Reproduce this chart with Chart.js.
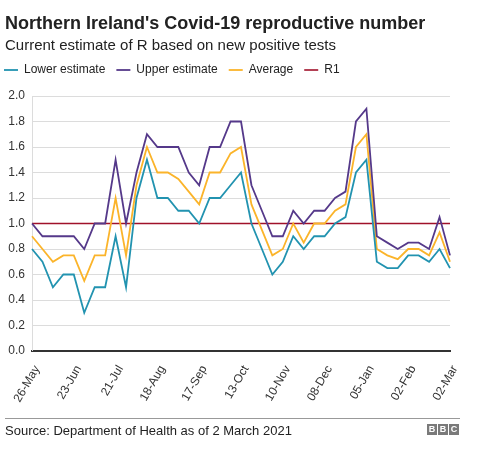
<!DOCTYPE html>
<html>
<head>
<meta charset="utf-8">
<script src="https://cdn.jsdelivr.net/npm/chart.js@4"></script>
<style>
  html, body { margin: 0; padding: 0; background: #fff; }
  body { width: 480px; height: 451px; position: relative; overflow: hidden; font-family: "Liberation Sans", Arial, sans-serif; }
  #title { position: absolute; left: 5px; top: 13px; font-size: 18px; font-weight: bold; color: #222; white-space: nowrap; }
  #subtitle { position: absolute; left: 5px; top: 36px; font-size: 15px; color: #222; white-space: nowrap; }
  #c { position: absolute; left: 0; top: 0; }
  #sep { position: absolute; left: 5px; top: 418px; width: 455px; height: 1px; background: #999; }
  #source { position: absolute; left: 5px; top: 423px; font-size: 13px; color: #222; white-space: nowrap; }
  #bbc { position: absolute; left: 427px; top: 424px; display: flex; gap: 1px; }
  #bbc span { width: 10px; height: 11px; background: #7a7a7a; color: #fff; font-size: 9px; font-weight: bold; line-height: 11px; text-align: center; }
</style>
</head>
<body>
<canvas id="c" width="480" height="451"></canvas>
<div id="title">Northern Ireland's Covid-19 reproductive number</div>
<div id="subtitle">Current estimate of R based on new positive tests</div>
<div id="sep"></div>
<div id="source">Source: Department of Health as of 2 March 2021</div>
<div id="bbc"><span>B</span><span>B</span><span>C</span></div>
<script>
// Tick labels shown every 4th weekly point
const tickLabels = ["26-May","23-Jun","21-Jul","18-Aug","17-Sep","13-Oct","10-Nov","08-Dec","05-Jan","02-Feb","02-Mar"];
const pointsPerTick = 4;

const lowerEstimate = [0.8,0.7,0.5,0.6,0.6,0.3,0.5,0.5,0.9,0.5,1.2,1.5,1.2,1.2,1.1,1.1,1.0,1.2,1.2,1.3,1.4,1.0,0.8,0.6,0.7,0.9,0.8,0.9,0.9,1.0,1.05,1.4,1.5,0.7,0.65,0.65,0.75,0.75,0.7,0.8,0.65];
const upperEstimate = [1.0,0.9,0.9,0.9,0.9,0.8,1.0,1.0,1.5,1.0,1.4,1.7,1.6,1.6,1.6,1.4,1.3,1.6,1.6,1.8,1.8,1.3,1.1,0.9,0.9,1.1,1.0,1.1,1.1,1.2,1.25,1.8,1.9,0.9,0.85,0.8,0.85,0.85,0.8,1.05,0.75];
const averageR = [0.9,0.8,0.7,0.75,0.75,0.55,0.75,0.75,1.2,0.75,1.3,1.6,1.4,1.4,1.35,1.25,1.15,1.4,1.4,1.55,1.6,1.15,0.95,0.75,0.8,1.0,0.85,1.0,1.0,1.1,1.15,1.6,1.7,0.8,0.75,0.72,0.8,0.8,0.75,0.93,0.7];
const r1Line = [1,1,1,1,1,1,1,1,1,1,1,1,1,1,1,1,1,1,1,1,1,1,1,1,1,1,1,1,1,1,1,1,1,1,1,1,1,1,1,1,1];

const categories = lowerEstimate.map((_, i) => (i % pointsPerTick === 0) ? tickLabels[i / pointsPerTick] : "");

const FONT = "'Liberation Sans', Arial, sans-serif";
Chart.defaults.font.family = FONT;
Chart.defaults.color = "#333";

const legendSpace = {
  id: 'legendSpace',
  beforeInit(chart) {
    const orig = chart.legend.fit;
    chart.legend.fit = function () { orig.call(this); this.height += 10; };
  }
};

function ds(label, data, color, width) {
  return { label, data, borderColor: color, backgroundColor: color, borderWidth: width, pointRadius: 0, pointHoverRadius: 0, tension: 0, fill: false };
}

new Chart(document.getElementById('c'), {
  type: 'line',
  data: {
    labels: categories,
    datasets: [
      ds("Lower estimate", lowerEstimate, "#2293b0", 1.8),
      ds("Upper estimate", upperEstimate, "#55398a", 1.8),
      ds("Average", averageR, "#fbb42a", 1.8),
      ds("R1", r1Line, "#a0112a", 1.6)
    ]
  },
  plugins: [legendSpace],
  options: {
    responsive: false,
    animation: false,
    layout: { padding: { top: 53, left: -7, right: 30, bottom: 45 } },
    plugins: {
      tooltip: { enabled: false },
      title: { display: false },
      legend: {
        display: true,
        position: 'top',
        align: 'start',
        labels: {
          usePointStyle: true,
          pointStyle: 'line',
          pointStyleWidth: 14,
          boxHeight: 12,
          padding: 11,
          color: '#222',
          font: { size: 12, family: FONT }
        }
      }
    },
    scales: {
      x: {
        grid: { display: false, drawTicks: false },
        border: { display: true, color: '#333', width: 2 },
        ticks: {
          autoSkip: false,
          maxRotation: 60,
          minRotation: 60,
          padding: 12,
          labelOffset: 5,
          color: '#333',
          font: { size: 12, family: FONT }
        },
        afterFit(scale) { scale.height = 55; }
      },
      y: {
        min: 0,
        max: 2.0,
        grid: {
          color: (ctx) => ctx.tick && ctx.tick.value === 0 ? '#333' : '#dcdcdc',
          lineWidth: (ctx) => ctx.tick && ctx.tick.value === 0 ? 0 : 1,
          drawTicks: false
        },
        border: { display: true, color: '#dcdcdc', width: 1 },
        ticks: {
          stepSize: 0.2,
          padding: 7,
          color: '#333',
          font: { size: 12, family: FONT },
          callback: (v) => Number(v).toFixed(1)
        },
        afterFit(scale) { scale.width = 39; }
      }
    }
  }
});
</script>
</body>
</html>
